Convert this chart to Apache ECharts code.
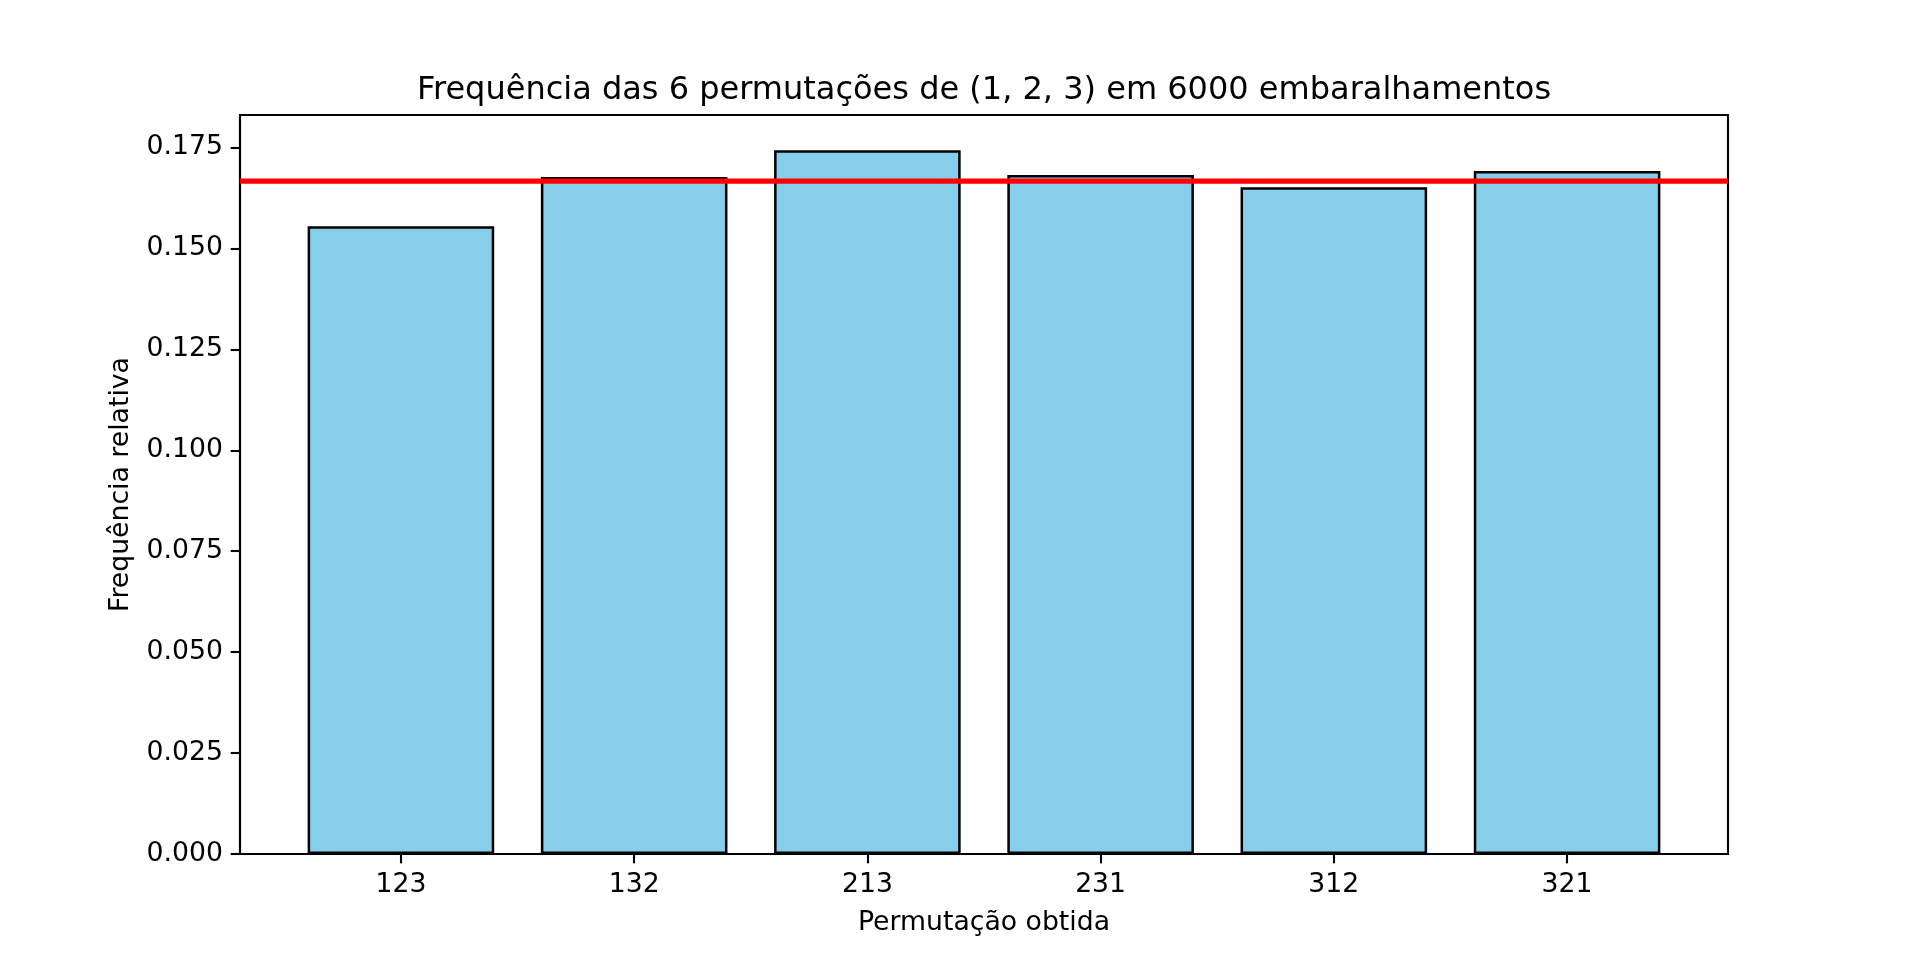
<!DOCTYPE html>
<html>
<head>
<meta charset="utf-8">
<title>Frequência das permutações</title>
<script src="https://cdn.jsdelivr.net/npm/echarts@6/dist/echarts.min.js"></script>
<style>
    html, body {margin: 0; padding: 0; background: #fff;}
    #chart {width: 1920px; height: 960px;}
</style>
</head>
<body>
<div id="chart"></div>
<script>
// permutations of (1, 2, 3) and their relative frequency over 6000 shuffles
const permutations = ['123', '132', '213', '231', '312', '321'];
const counts = [933, 1006, 1046, 1009, 991, 1015];
const totalShuffles = 6000;
const yTicks = [0, 0.025, 0.05, 0.075, 0.1, 0.125, 0.15, 0.175];
const expected = 1 / 6;

const frequencies = counts.map(c => c / totalShuffles);
// matplotlib style autoscale: 5% headroom above the tallest bar
const yMax = Math.max(...frequencies) * 1.05;

// outer frame (axes box) in px
const frame = {left: 240, right: 192, top: 115, bottom: 106};
const frameWidth = 1920 - frame.left - frame.right;
// bars sit at 0..n-1 with width 0.8, x range padded by 5% like matplotlib
const barW = 0.8;
const lo = -barW / 2, hi = permutations.length - 1 + barW / 2;
const pad = (hi - lo) * 0.05;
const pxPerUnit = frameWidth / (hi - lo + 2 * pad);
const inset = (lo - pad + 0.5) * -pxPerUnit; // distance from frame edge to first band
const barsGrid = {left: frame.left + inset, right: frame.right + inset, top: frame.top, bottom: frame.bottom};

const fontFamily = '"DejaVu Sans", sans-serif';
const fontSize = 26.7;
const chart = echarts.init(document.getElementById('chart'));

chart.setOption({
    animation: false,
    title: {
        text: 'Frequência das 6 permutações de (1, 2, 3) em 6000 embaralhamentos',
        left: frame.left + frameWidth / 2,
        top: 75,
        padding: 0,
        textAlign: 'center',
        textStyle: {fontFamily, fontSize: 32, fontWeight: 'normal', color: '#000'}
    },
    grid: [
        Object.assign({show: true, borderColor: '#000', borderWidth: 2.1, backgroundColor: 'transparent'}, frame),
        barsGrid
    ],
    xAxis: [{
        gridIndex: 0,
        type: 'value',
        min: 0,
        max: 1,
        show: false
    }, {
        gridIndex: 1,
        type: 'category',
        data: permutations,
        name: 'Permutação obtida',
        nameLocation: 'middle',
        nameGap: 56,
        nameTextStyle: {fontFamily, fontSize, color: '#000'},
        axisLine: {show: false},
        axisTick: {show: true, alignWithLabel: true, length: 9.3, lineStyle: {color: '#000', width: 2.1}},
        axisLabel: {fontFamily, fontSize, color: '#000', margin: 18},
        splitLine: {show: false}
    }],
    yAxis: [{
        gridIndex: 0,
        type: 'value',
        min: 0,
        max: yMax,
        interval: 0.025,
        name: 'Frequência relativa',
        nameLocation: 'middle',
        nameGap: 105,
        nameTextStyle: {fontFamily, fontSize, color: '#000'},
        axisLine: {show: true, lineStyle: {color: '#000', width: 2.1}},
        axisTick: {show: true, length: 9.3, lineStyle: {color: '#000', width: 2.1}},
        axisLabel: {
            fontFamily, fontSize, color: '#000', margin: 17,
            showMaxLabel: false,
            formatter: v => yTicks.some(t => Math.abs(t - v) < 1e-9) ? v.toFixed(3) : ''
        },
        splitLine: {show: false}
    }, {
        gridIndex: 1,
        type: 'value',
        min: 0,
        max: yMax,
        show: false
    }],
    series: [{
        type: 'bar',
        xAxisIndex: 1,
        yAxisIndex: 1,
        data: frequencies,
        barWidth: '80%',
        z: 2,
        itemStyle: {color: '#87CEEB', borderColor: '#000', borderWidth: 2.5}
    }, {
        // expected frequency 1/6, drawn across the whole axes box
        type: 'line',
        xAxisIndex: 0,
        yAxisIndex: 0,
        data: [[0, expected], [1, expected]],
        symbol: 'none',
        silent: true,
        z: 3,
        lineStyle: {color: '#ff0000', width: 5.3}
    }]
});
</script>
</body>
</html>
